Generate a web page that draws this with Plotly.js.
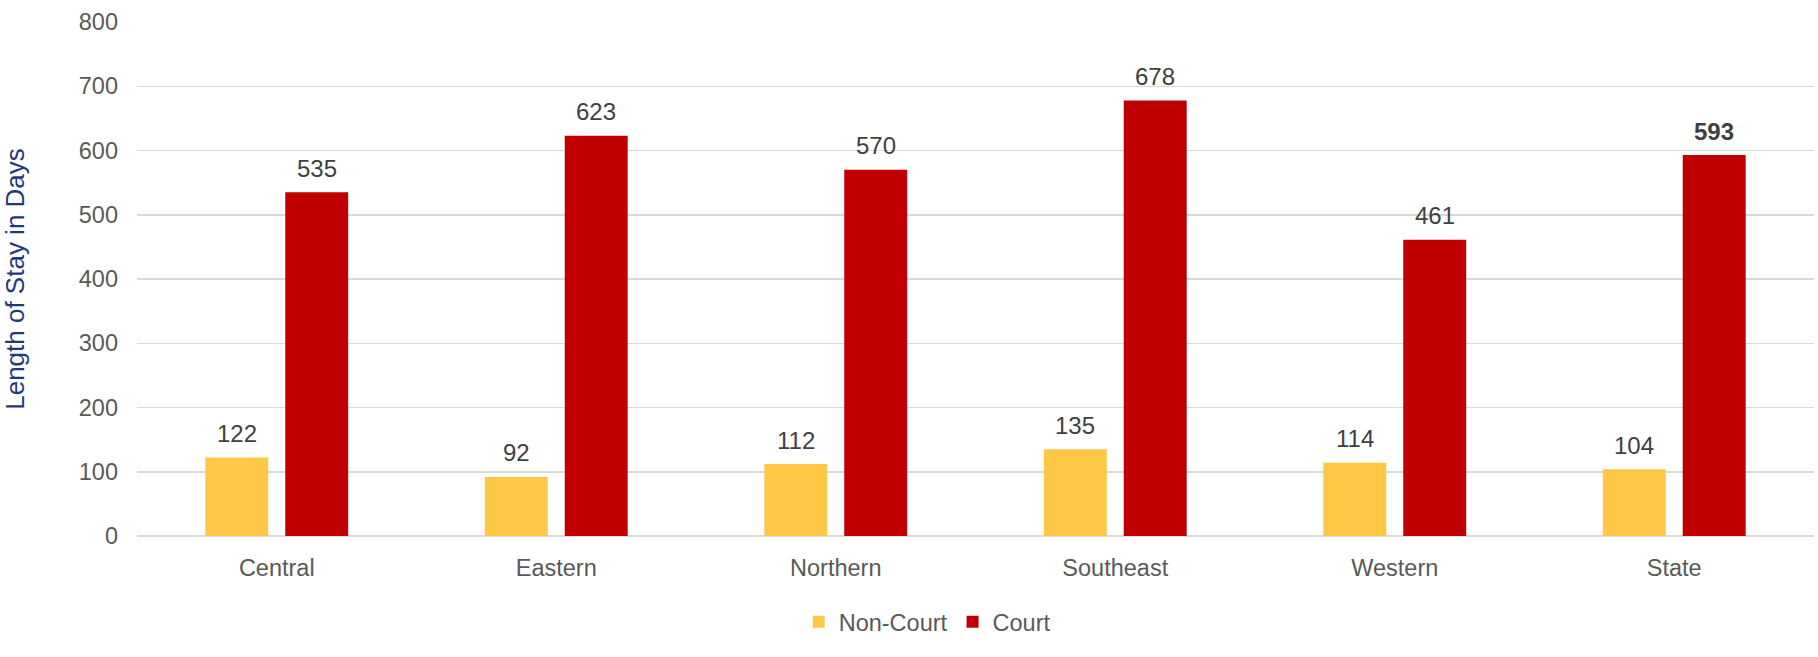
<!DOCTYPE html>
<html>
<head>
<meta charset="utf-8">
<script src="https://cdn.plot.ly/plotly-3.0.1.min.js"></script>
<style>html,body{margin:0;padding:0;background:#fff;}#chart{width:1818px;height:657px;}</style>
</head>
<body>
<div id="chart"></div>
<script>
const categories = ["Central", "Eastern", "Northern", "Southeast", "Western", "State"];
const nonCourt = [122, 92, 112, 135, 114, 104];
const court = [535, 623, 570, 678, 461, 593];
const seriesNames = ["Non-Court", "Court"];
const yTicks = [0, 100, 200, 300, 400, 500, 600, 700, 800];

const yellow = "#FEC746";
const red = "#C00000";
const font = "Liberation Sans, Arial, sans-serif";

const traces = [
  {type: "bar", name: seriesNames[0], x: categories, y: nonCourt, marker: {color: yellow}, hoverinfo: "skip"},
  {type: "bar", name: seriesNames[1], x: categories, y: court, marker: {color: red}, hoverinfo: "skip"}
];

const annotations = [];
categories.forEach((c, i) => {
  const bold = c === "State";
  annotations.push({x: c, y: nonCourt[i], xref: "x", yref: "y", text: String(nonCourt[i]), showarrow: false,
    xshift: -40, yshift: 24, font: {family: font, size: 24, color: "#404040"}});
  annotations.push({x: c, y: court[i], xref: "x", yref: "y", text: bold ? "<b>" + court[i] + "</b>" : String(court[i]), showarrow: false,
    xshift: 40, yshift: 24, font: {family: font, size: 24, color: "#404040"}});
});

const layout = {
  width: 1818, height: 657,
  margin: {l: 137, r: 4, t: 22, b: 121},
  paper_bgcolor: "#fff", plot_bgcolor: "#fff",
  barmode: "group", bargap: 0.428, bargroupgap: 0.2125,
  font: {family: font, size: 23.5, color: "#595959"},
  xaxis: {type: "category", showgrid: false, showline: false, zeroline: false, ticks: "",
    ticklabelstandoff: 15, tickfont: {size: 23.5, color: "#595959"}},
  yaxis: {range: [0, 800], tickvals: yTicks, showgrid: true, gridcolor: "#d9d9d9", gridwidth: 1.5,
    zeroline: true, zerolinecolor: "#d9d9d9", zerolinewidth: 1.5, showline: false, ticks: "",
    ticklabelstandoff: 18, tickfont: {size: 23.5, color: "#595959"},
    title: {text: "Length of Stay in Days", standoff: 46, font: {size: 26, color: "#1F3A7A"}}},
  showlegend: true,
  legend: {orientation: "h", xref: "container", yref: "container", x: 0.51, xanchor: "center", y: 1 - 622/657, yanchor: "middle",
    font: {size: 23.5, color: "#595959"}, itemwidth: 30, traceorder: "normal"},
  annotations: annotations
};

Plotly.newPlot("chart", traces, layout, {staticPlot: true, displayModeBar: false});
</script>
</body>
</html>
